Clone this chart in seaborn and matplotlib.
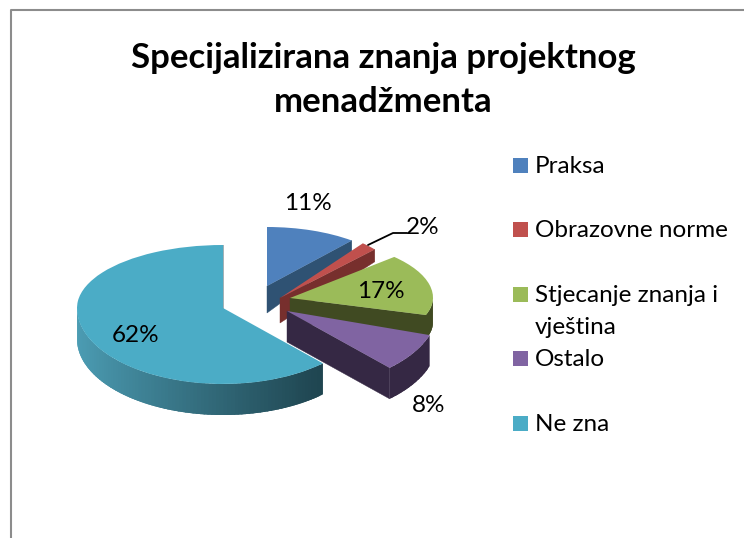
import numpy as np
import matplotlib
matplotlib.use("Agg")
import matplotlib.pyplot as plt
from matplotlib.transforms import Transform
from matplotlib.patches import Rectangle
import seaborn as sns

# ---- data ----
categories = ["Praksa", "Obrazovne norme", "Stjecanje znanja i\nvještina", "Ostalo", "Ne zna"]
shares = [11, 2, 17, 8, 62]
title_text = "Specijalizirana znanja projektnog\nmenadžmenta"

# ---- styling ----
top_hex = ["#4F81BD", "#C0504D", "#9BBB59", "#8064A2", "#4BACC6"]
wall_hex = ["#2F5273", "#772F2D", "#404A22", "#352844", "#1F4550"]
# per-slice layout of the tilted, exploded pie (pixels): apex x, apex y, rx, r back, r front
slice_geom = [(267, 286, 133, 59, 59), (280, 298, 130, 71, 71), (290, 298, 143, 60, 55),
              (287, 311, 150, 78, 78), (223, 308, 146, 63, 76)]
# extrusion depth at apex, and how it shrinks towards the back
slice_depth = [(27, .355), (25, .26), (24, 0), (31, 0), (31, 0)]
label_xy = [(308, 204), (423, 228), (381, 292), (429, 406), (136, 336)]
legend_y = [165, 229, 294, 358, 423]

sns.set_theme(style="white")
plt.rcParams["font.family"] = ["Lato", "DejaVu Sans"]
palette = sns.color_palette(top_hex)


class Tilt(Transform):
    input_dims = output_dims = 2

    def __init__(self, geom):
        super().__init__()
        self.geom = geom

    def transform_non_affine(self, values):
        cx, cy, rx, rb, rf = self.geom
        v = np.asarray(values, float)
        return np.column_stack([cx + rx * v[:, 0], cy + np.where(v[:, 1] > 0, rf, rb) * v[:, 1]])


def rim(geom, ang):
    cx, cy, rx, rb, rf = geom
    a = np.radians(ang)
    s = np.sin(a)
    return cx + rx * np.cos(a), cy + np.where(s > 0, rf, rb) * s


def drop(depth, geom, y):
    return np.maximum(depth[0] + depth[1] * (y - geom[1]), 0)


fig = plt.figure(figsize=(7.44, 5.38), dpi=100, facecolor="white")
ax = fig.add_axes([0, 0, 1, 1])
wedges, _ = ax.pie(shares, colors=palette, startangle=-90, counterclock=True, frame=True,
                   wedgeprops={"linewidth": 0})
ax.set_aspect("auto")
ax.set_xlim(0, 744)
ax.set_ylim(538, 0)
ax.axis("off")

for i, w in enumerate(wedges):
    g, d = slice_geom[i], slice_depth[i]
    w.set_transform(Tilt(g) + ax.transData)
    w.set_zorder(i * 2 + 1.5)
    base = wall_hex[i]
    # straight cut faces that look towards the viewer
    for ang, vis in ((w.theta2, np.cos(np.radians(w.theta2)) > 0),
                     (w.theta1, -np.cos(np.radians(w.theta1)) > 0)):
        if vis:
            ex, ey = rim(g, ang)
            xs = [g[0], ex, ex, g[0]]
            ys = [g[1], ey, ey + drop(d, g, ey), g[1] + drop(d, g, g[1])]
            ax.fill(xs, ys, color=base, lw=0.3, zorder=i * 2 + 1)
    # outer rim on the front half
    a0, a1 = max(w.theta1, 0), min(w.theta2, 180)
    if a1 > a0:
        n = 90 if i == 4 else 12
        edges = np.linspace(a0, a1, n + 1)
        for s0, s1 in zip(edges[:-1], edges[1:]):
            # each strip runs under the next one, so no seams show
            arc = np.linspace(s0, min(s1 + 2, a1), 6)
            x, y = rim(g, arc)
            if i == 4:
                f = np.clip((x[0] - 77) / (322 - 77), 0, 1)
                left = np.array(matplotlib.colors.to_rgb("#4C9DB4"))
                right = np.array(matplotlib.colors.to_rgb(base))
                col = left + (right - left) * f ** 0.9
            else:
                col = base
            ax.fill(np.r_[x, x[::-1]], np.r_[y, (y + drop(d, g, y))[::-1]],
                    color=col, lw=0, zorder=i * 2 + 1)

# percentage labels
for v, (x, y) in zip(shares, label_xy):
    ax.text(x, y, f"{v}%", ha="center", va="center", fontsize=17.5, color="black", zorder=20)
ax.plot([368, 393, 407], [245, 233, 233], color="black", lw=1.3, zorder=20)

# title
ax.text(383, 80, title_text, ha="center", va="center", fontsize=25, fontweight="bold",
        color="black", linespacing=1.46, zorder=20)

# legend
for name, col, y in zip(categories, palette, legend_y):
    ax.add_patch(Rectangle((513, y - 7.5), 15, 15, facecolor=col, edgecolor="none", zorder=20))
    ax.text(535, y - 9, name, ha="left", va="top", fontsize=17.5, color="black",
            linespacing=1.65, zorder=20)

# chart frame
ax.plot([10.5, 10.5, 744], [538, 9.5, 9.5], color="#8C8C8C", lw=1.5, zorder=20, clip_on=False)

fig.savefig("out.png", dpi=100, facecolor="white")
